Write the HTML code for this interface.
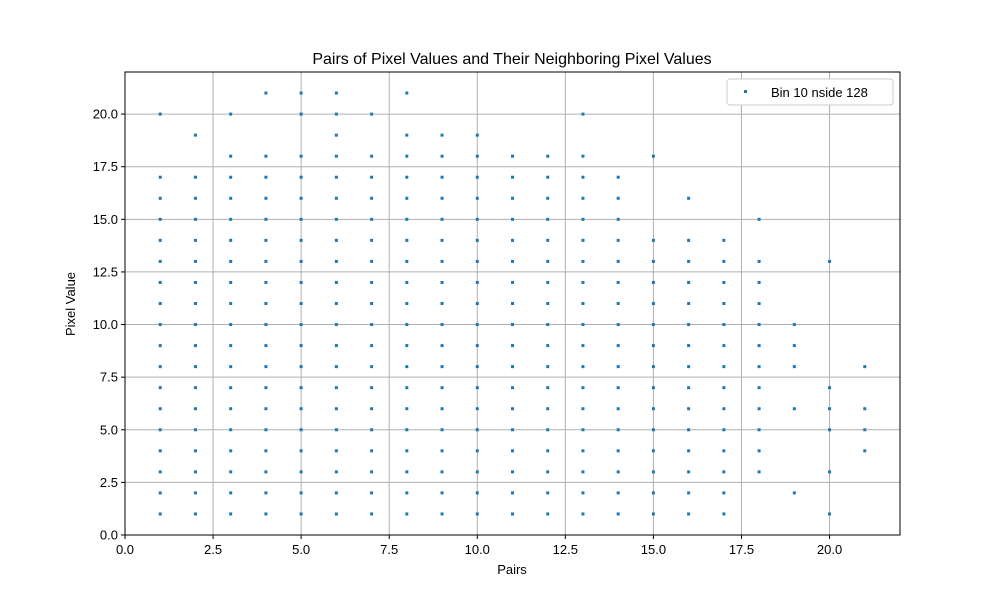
<!DOCTYPE html>
<html><head><meta charset="utf-8"><style>
body{margin:0;background:#fff;}
svg text{font-family:"Liberation Sans","DejaVu Sans",sans-serif;fill:#000;}
</style></head><body>
<svg id="chart" width="1000" height="600" viewBox="0 0 1000 600">
<rect x="0" y="0" width="1000" height="600" fill="#fff"/>
<text x="512" y="64" font-size="16" text-anchor="middle">Pairs of Pixel Values and Their Neighboring Pixel Values</text>
<g id="grid"></g>
<g id="points"></g>
<rect x="125" y="72" width="775" height="463" fill="none" stroke="#000" stroke-width="1"/>
<g id="ticks"></g>
<text x="512" y="574" font-size="13" text-anchor="middle">Pairs</text>
<text x="75" y="304" font-size="13" text-anchor="middle" transform="rotate(-90 75 304)">Pixel Value</text>
<g>
<rect x="727" y="79" width="166" height="26" rx="3" fill="#fff" stroke="#ccc"/>
<rect x="744" y="90" width="3" height="3" fill="#1f77b4"/>
<text x="771" y="97" font-size="13">Bin 10 nside 128</text>
</g>
</svg>
<script>
const xTicks=[0,2.5,5,7.5,10,12.5,15,17.5,20];
const yTicks=[0,2.5,5,7.5,10,12.5,15,17.5,20];
const pairs=[1,2,3,4,5,6,7,8,9,10,11,12,13,14,15,16,17,18,19,20,21];
const maxFilled=[17,17,18,18,18,21,18,19,19,19,18,18,18,17,14,14,14,13,0,0,0];
const minFilled=[1,1,1,1,1,1,1,1,1,1,1,1,1,1,1,1,1,3,1,1,1];
const extraValues=[[20],[19],[20],[21],[20,21],[],[20],[21],[],[],[],[],[20],[],[18],[16],[],[15],[2,6,8,9,10],[1,3,5,6,7,13],[4,5,6,8]];
const X0=125,X1=900,Y0=535,Y1=72,XMAX=22,YMAX=22;
const xs=v=>X0+v/XMAX*(X1-X0);
const ys=v=>Y0-v/YMAX*(Y0-Y1);
const NS="http://www.w3.org/2000/svg";
const grid=document.getElementById('grid'),ticks=document.getElementById('ticks'),pts=document.getElementById('points');
function mk(tag,attrs,parent){const e=document.createElementNS(NS,tag);for(const k in attrs)e.setAttribute(k,attrs[k]);parent.appendChild(e);return e;}
xTicks.forEach(t=>{
  const x=xs(t);
  const g=mk('line',{x1:x,x2:x,y1:Y1,y2:Y0,stroke:'#b0b0b0','stroke-width':1},grid);
  
  
  const tk=mk('line',{x1:x,x2:x,y1:Y0,y2:Y0+4,stroke:'#000'},ticks);
  
  
  const tx=mk('text',{x:x,y:Y0+19,'font-size':13,'text-anchor':'middle'},ticks);
  tx.textContent=t.toFixed(1);
  
  
});
yTicks.forEach(t=>{
  const y=ys(t);
  const g=mk('line',{x1:X0,x2:X1,y1:y,y2:y,stroke:'#b0b0b0','stroke-width':1},grid);
  
  
  const tk=mk('line',{x1:X0-4,x2:X0,y1:y,y2:y,stroke:'#000'},ticks);
  
  
  const tx=mk('text',{x:X0-7,y:y+4.5,'font-size':13,'text-anchor':'end'},ticks);
  tx.textContent=t.toFixed(1);
  
  
});
pairs.forEach((p,i)=>{
  const vals=[];
  for(let v=minFilled[i];v<=maxFilled[i];v++)vals.push(v);
  extraValues[i].forEach(v=>vals.push(v));
  vals.forEach(v=>{
    const r=mk('rect',{x:xs(p)-1.5,y:ys(v)-1.5,width:3,height:3,fill:'#1f77b4'},pts);
    
    
  });
});
</script>
</body></html>
